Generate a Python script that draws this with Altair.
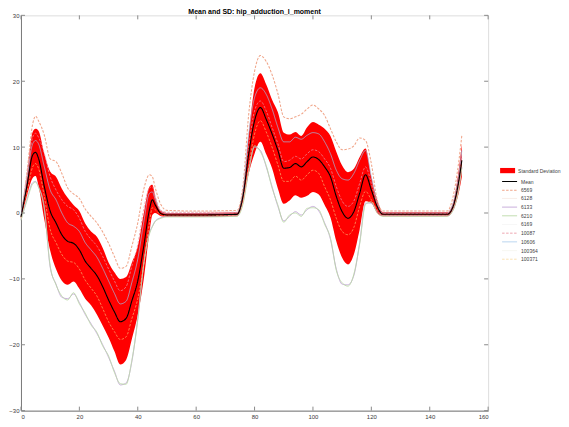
import altair as alt
import pandas as pd

# ---------------- data ----------------
x_vals = [0, 2, 4, 5, 6, 8, 10, 12, 14, 16, 18, 20, 22, 24, 26, 28, 30, 32, 34, 36, 38, 40, 42, 44,
          45, 46, 48, 50, 60, 74, 76, 78, 80, 82, 84, 86, 88, 90, 92, 94, 96, 98, 100, 102, 104, 106,
          108, 110, 112, 114, 116, 118, 120, 122, 124, 135, 146, 148, 150, 151]

mean_vals = [-0.6, 4.0, 8.8, 9.2, 8.3, 4.0, 0.3, -1.5, -3.3, -4.3, -4.6, -5.6, -7.3, -8.4, -9.5, -11.2,
             -13.2, -15.0, -16.5, -16.0, -13.3, -10.3, -5.2, 0.5, 2.0, 1.2, -0.1, -0.3, -0.3, -0.2,
             2.5, 9.0, 14.0, 16.0, 14.2, 12.0, 9.5, 6.8, 6.9, 7.5, 7.0, 7.8, 8.5, 8.1, 7.0, 5.5,
             2.5, 0.2, -0.8, 0.2, 3.0, 5.8, 3.5, 1.0, -0.2, -0.2, -0.2, 1.0, 5.0, 8.0]

sd_vals = [0.5, 1.5, 3.5, 3.6, 4.2, 5.0, 6.0, 7.0, 7.0, 6.6, 5.8, 5.9, 5.7, 5.6, 5.9, 5.9,
           5.7, 6.0, 6.5, 6.3, 5.8, 5.2, 5.0, 3.5, 2.3, 1.2, 0.4, 0.3, 0.3, 0.3,
           1.0, 3.0, 5.0, 5.2, 5.3, 5.2, 5.8, 5.4, 5.0, 4.8, 4.7, 5.2, 5.3, 5.3, 5.8, 6.2,
           6.8, 7.0, 7.0, 6.5, 5.5, 4.0, 2.0, 1.0, 0.3, 0.3, 0.3, 0.6, 1.8, 2.5]

s6569 = [-0.8, 6.0, 13.5, 14.7, 14.0, 11.8, 8.2, 7.8, 6.0, 3.8, 2.9, 2.2, 0.6, -0.5, -1.5, -2.9,
         -4.6, -6.6, -8.4, -8.1, -5.0, -1.5, 3.5, 5.8, 5.5, 3.8, 1.2, 0.4, 0.3, 0.4,
         4.0, 15.0, 21.5, 23.9, 23.0, 21.0, 18.1, 14.6, 14.3, 14.6, 15.0, 15.8, 16.4, 15.8, 14.8, 12.8,
         10.8, 9.6, 9.7, 10.2, 11.4, 11.0, 7.5, 2.0, 0.3, 0.3, 0.3, 2.5, 8.0, 11.8]

s6128 = [-0.6, 3.5, 8.0, 8.4, 7.5, 3.0, -1.0, -3.0, -4.8, -5.7, -6.0, -7.0, -8.6, -9.8, -11.0, -12.8,
         -14.8, -16.5, -18.0, -17.5, -14.8, -11.6, -6.5, -0.5, 1.2, 0.8, -0.2, -0.3, -0.3, -0.2,
         1.8, 8.0, 13.0, 15.0, 13.2, 11.0, 8.5, 5.8, 5.9, 6.5, 6.0, 6.8, 7.5, 7.1, 5.8, 4.0,
         1.0, -1.5, -2.2, -1.0, 2.0, 4.8, 3.0, 0.8, -0.2, -0.2, -0.2, 0.9, 4.8, 7.8]

s6133 = [-1.0, 2.0, 4.6, 4.8, 4.0, 0.8, -8.2, -10.8, -12.8, -13.0, -12.3, -13.6, -15.4, -16.8, -18.3, -20.0,
         -21.9, -24.0, -26.1, -25.8, -22.5, -16.0, -8.0, -3.0, -2.0, -1.2, -0.7, -0.5, -0.5, -0.4,
         1.5, 6.5, 10.0, 9.5, 7.0, 4.0, 1.0, -1.2, -0.5, 0.2, -0.3, 0.5, 1.0, 0.3, -1.5, -4.0,
         -8.5, -10.8, -10.9, -9.5, -4.5, 1.5, 1.5, 0.2, -0.4, -0.4, -0.4, 0.5, 4.0, 7.0]

s6210 = [-1.1, 1.8, 4.4, 4.7, 3.9, 0.6, -8.0, -10.9, -12.6, -13.2, -12.1, -13.8, -15.2, -17.0, -18.1, -20.2,
         -21.7, -24.2, -25.9, -26.0, -22.3, -16.3, -7.8, -3.2, -2.1, -1.3, -0.8, -0.6, -0.6, -0.5,
         1.3, 6.3, 10.2, 9.3, 7.2, 3.8, 1.2, -1.4, -0.3, 0.0, -0.5, 0.7, 0.8, 0.5, -1.7, -3.8,
         -8.7, -10.6, -11.1, -9.3, -4.7, 1.3, 1.7, 0.0, -0.5, -0.5, -0.5, 0.4, 3.8, 6.8]

s6169 = [-0.5, 4.5, 9.8, 10.3, 9.5, 5.5, 2.0, 0.2, -1.6, -2.7, -3.0, -4.0, -5.8, -6.9, -8.0, -9.7,
         -11.7, -13.5, -15.0, -14.5, -11.8, -8.7, -3.5, 2.0, 2.8, 1.6, 0.1, 0.2, 0.2, 0.3,
         3.2, 10.5, 15.8, 17.8, 16.0, 13.6, 11.0, 8.3, 8.4, 9.0, 8.6, 9.4, 10.0, 9.6, 8.5, 7.0,
         4.0, 1.7, 0.8, 1.8, 4.5, 7.2, 4.8, 1.2, 0.3, 0.3, 0.3, 1.4, 5.8, 8.8]

s10087 = [-0.5, 5.5, 11.5, 12.1, 11.5, 9.0, 5.5, 3.5, 2.0, 1.0, 0.5, -0.8, -2.8, -4.0, -5.0, -6.6,
          -8.5, -10.3, -11.8, -11.2, -8.0, -4.8, 0.5, 3.8, 4.0, 2.5, 0.4, 0.1, 0.1, 0.1,
          2.8, 10.0, 15.5, 17.0, 15.5, 13.0, 10.5, 7.8, 8.0, 8.6, 8.2, 9.0, 9.6, 9.3, 8.2, 6.8,
          4.0, 1.8, 1.0, 1.8, 4.5, 7.0, 4.5, 1.2, -0.1, -0.1, -0.1, 1.2, 5.5, 8.5]

s10606 = [-0.5, 5.0, 10.5, 11.0, 10.5, 7.0, 3.5, 2.0, 0.0, -1.5, -2.0, -2.8, -4.5, -5.6, -6.7, -8.4,
          -10.3, -12.2, -13.8, -13.4, -10.5, -7.0, -1.5, 3.0, 3.2, 2.0, 0.2, -0.1, -0.1, 0.0,
          3.0, 12.0, 17.5, 19.0, 18.0, 15.8, 13.0, 10.8, 10.8, 11.5, 11.2, 11.8, 12.2, 12.0, 10.8, 9.0,
          6.5, 5.2, 5.0, 6.0, 8.0, 9.5, 5.5, 1.5, 0.0, 0.0, 0.0, 1.5, 6.0, 9.5]

s100364 = [-0.7, 3.6, 8.3, 8.7, 7.8, 3.2, -0.6, -2.5, -4.3, -5.3, -5.6, -6.6, -8.3, -9.4, -10.5, -12.2,
           -14.2, -16.0, -17.5, -17.0, -14.3, -11.3, -6.2, -0.3, 1.4, 1.0, -0.2, -0.5, -0.5, -0.4,
           2.0, 8.2, 13.0, 15.0, 13.2, 11.0, 8.5, 5.8, 5.9, 6.5, 6.0, 6.8, 7.5, 7.1, 6.0, 4.5,
           1.5, -0.8, -1.8, -0.8, 2.0, 4.8, 2.8, 0.7, -0.4, -0.4, -0.4, 0.8, 4.6, 7.6]

s100371 = [-0.7, 3.0, 7.0, 7.5, 6.8, 2.5, -2.5, -4.5, -6.3, -7.3, -7.5, -8.5, -10.2, -11.4, -12.6, -14.5,
           -16.5, -18.0, -19.2, -18.8, -16.0, -13.0, -8.0, -1.5, 0.8, 0.5, -0.3, -0.4, -0.4, -0.3,
           1.5, 7.0, 12.0, 14.0, 12.3, 10.0, 7.3, 4.8, 4.8, 5.6, 5.0, 5.8, 6.5, 6.0, 4.0, 2.0,
           -0.8, -2.8, -3.3, -2.2, 1.0, 3.3, 2.0, 0.5, -0.3, -0.3, -0.3, 0.8, 4.5, 7.5]

subject_names = ["6569", "6128", "6133", "6210", "6169", "10087", "10606", "100364", "100371"]
subject_series = [s6569, s6128, s6133, s6210, s6169, s10087, s10606, s100364, s100371]
subject_colors = ["#f0a488", "#f7ece6", "#c4a6d8", "#b8d8a4", "#f4f4f4",
                  "#e88a98", "#9cc4ea", "#f2f2ea", "#f8cc80"]
subject_dash = [[2.5, 1.5], [1, 0], [1, 0], [1, 0], [1, 0], [2.5, 1.5], [1, 0], [1, 0], [2.5, 1.5]]
hidden_subjects = ["6128", "6169", "100364"]   # pale lines, lying under the band

x_ticks = [0, 20, 40, 60, 80, 100, 120, 140, 160]
y_ticks = [-30, -20, -10, 0, 10, 20, 30]
title_text = "Mean and SD: hip_adduction_l_moment"

# ---------------- tables ----------------
band_df = pd.DataFrame({
    "x": x_vals,
    "lo": [m - s for m, s in zip(mean_vals, sd_vals)],
    "hi": [m + s for m, s in zip(mean_vals, sd_vals)],
    "kind": ["Standard Deviation"] * len(x_vals),
})
mean_df = pd.DataFrame({"x": x_vals, "value": mean_vals, "series": ["Mean"] * len(x_vals)})
rows = []
for name, vals in zip(subject_names, subject_series):
    for xv, yv in zip(x_vals, vals):
        rows.append({"x": xv, "value": yv, "series": name})
subj_df = pd.DataFrame(rows)
under_df = subj_df[subj_df["series"].isin(hidden_subjects)]
over_df = subj_df[~subj_df["series"].isin(hidden_subjects)]
xt_df = pd.DataFrame({"t": x_ticks})
yt_df = pd.DataFrame({"t": y_ticks})

W, H = 468, 396
FONT = "Liberation Sans"

x_scale = alt.Scale(domain=[0, 160], nice=False, zero=False)
y_scale = alt.Scale(domain=[-30, 30], nice=False, zero=False)
x_axis = alt.Axis(values=x_ticks, title=None, grid=False, ticks=False, labelFontSize=6,
                  labelColor="#3a3a3a", domainColor="#7a7a7a", labelPadding=3, labelFont=FONT)
y_axis = alt.Axis(values=y_ticks, title=None, grid=False, ticks=False, labelFontSize=6,
                  labelColor="#3a3a3a", domainColor="#7a7a7a", labelPadding=2, labelFont=FONT)

order = ["Mean"] + subject_names
stroke_scale = alt.Scale(domain=order, range=["#000000"] + subject_colors)
dash_scale = alt.Scale(domain=order, range=[[1, 0]] + subject_dash)
width_scale = alt.Scale(domain=order, range=[1.1] + [0.6] * len(subject_names))

band = alt.Chart(band_df).mark_area(interpolate="monotone", opacity=1).encode(
    x=alt.X("x:Q", scale=x_scale, axis=x_axis),
    y=alt.Y("lo:Q", scale=y_scale, axis=y_axis),
    y2="hi:Q",
    fill=alt.Fill("kind:N", scale=alt.Scale(domain=["Standard Deviation"], range=["#ff0000"]),
                  legend=alt.Legend(title=None, orient="none", legendX=480, legendY=148,
                                    symbolType="M-1,-0.35H1V0.35H-1Z", symbolSize=225,
                                    symbolStrokeWidth=0, labelFontSize=5, labelFont=FONT,
                                    labelColor="#404040", labelOffset=3)),
)


def subject_layer(df, with_legend):
    stroke_kw = {}
    if with_legend:
        # 8px symbol cell, the path reaches 15px: entries come 8.7px apart as in the reference
        stroke_kw["legend"] = alt.Legend(title=None, orient="none", legendX=484.5, legendY=161.5,
                                         symbolType="M-1.875,0H1.875", symbolSize=64,
                                         symbolStrokeWidth=1.2,
                                         labelFontSize=5, labelFont=FONT, labelColor="#404040",
                                         labelOffset=6.5, rowPadding=0.7)
    return alt.Chart(df).mark_line(interpolate="monotone").encode(
        x=alt.X("x:Q", scale=x_scale),
        y=alt.Y("value:Q", scale=y_scale),
        stroke=alt.Stroke("series:N", scale=stroke_scale, sort=order, **stroke_kw),
        strokeDash=alt.StrokeDash("series:N", scale=dash_scale, legend=None),
        strokeWidth=alt.StrokeWidth("series:N", scale=width_scale, legend=None),
        detail="series:N",
    )


under = subject_layer(under_df, False)
over = subject_layer(over_df, True)

mean_line = alt.Chart(mean_df).mark_line(interpolate="monotone").encode(
    x=alt.X("x:Q", scale=x_scale),
    y=alt.Y("value:Q", scale=y_scale),
    stroke=alt.Stroke("series:N", scale=stroke_scale),
    strokeDash=alt.StrokeDash("series:N", scale=dash_scale, legend=None),
    strokeWidth=alt.StrokeWidth("series:N", scale=width_scale, legend=None),
)

tick_col = "#8a8a8a"
xt_bottom = alt.Chart(xt_df).mark_rule(color=tick_col, strokeWidth=1).encode(
    x=alt.X("t:Q", scale=x_scale), y=alt.value(H), y2=alt.value(H - 4))
xt_top = alt.Chart(xt_df).mark_rule(color=tick_col, strokeWidth=1).encode(
    x=alt.X("t:Q", scale=x_scale), y=alt.value(0), y2=alt.value(4))
yt_left = alt.Chart(yt_df).mark_rule(color=tick_col, strokeWidth=1).encode(
    y=alt.Y("t:Q", scale=y_scale), x=alt.value(0), x2=alt.value(4))
yt_right = alt.Chart(yt_df).mark_rule(color=tick_col, strokeWidth=1).encode(
    y=alt.Y("t:Q", scale=y_scale), x=alt.value(W), x2=alt.value(W - 4))

chart = alt.layer(under, band, over, mean_line, xt_bottom, xt_top, yt_left, yt_right).properties(
    width=W, height=H,
    padding={"left": 0, "top": 0, "right": 0, "bottom": 0},
    title=alt.TitleParams(title_text, fontSize=7, fontWeight="bold", font=FONT, anchor="middle",
                          offset=-3, color="#000000"),
).configure_view(stroke="#a8a8a8", strokeWidth=1).configure(background="white")

chart.save("out.html", embed_options={"renderer": "svg", "actions": False})
